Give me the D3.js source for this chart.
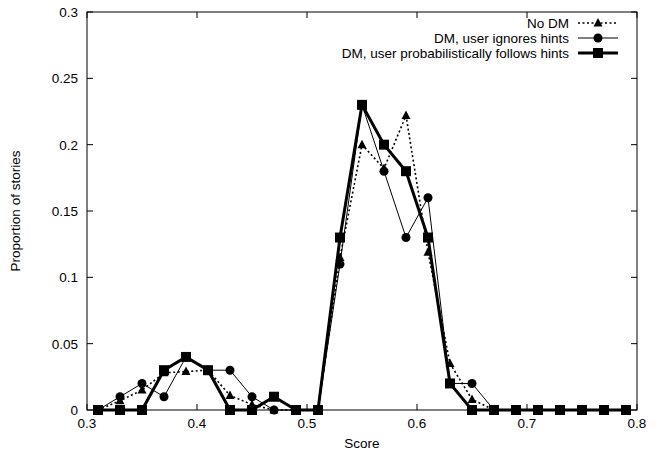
<!DOCTYPE html>
<html><head><meta charset="utf-8">
<script src="https://cdn.jsdelivr.net/npm/d3@7"></script>
<style>body{margin:0;background:#fff}text{font-family:"Liberation Sans",Arial,sans-serif;fill:#000}</style>
</head><body><svg id="c" width="657" height="455"></svg>
<script>
const scores = [0.31,0.33,0.35,0.37,0.39,0.41,0.43,0.45,0.47,0.49,0.51,0.53,0.55,0.57,0.59,0.61,0.63,0.65,0.67,0.69,0.71,0.73,0.75,0.77,0.79];
const noDM =     [0,0.007,0.015,0.028,0.029,0.03,0.011,0.004,0,0,0,0.115,0.2,0.182,0.222,0.119,0.035,0.008,0,0,0,0,0,0,0];
const ignores =  [0,0.01,0.02,0.01,0.04,0.03,0.03,0.01,0,0,0,0.11,0.23,0.18,0.13,0.16,0.02,0.02,0,0,0,0,0,0,0];
const follows =  [0,0,0,0.03,0.04,0.03,0,0,0.01,0,0,0.13,0.23,0.2,0.18,0.13,0.02,0,0,0,0,0,0,0,0];
const seriesNames = ["No DM","DM, user ignores hints","DM, user probabilistically follows hints"];
const xTicks = [0.3,0.4,0.5,0.6,0.7,0.8];
const yTicks = [0,0.05,0.1,0.15,0.2,0.25,0.3];

const svg = d3.select("#c");
const L=87,R=637,T=12,B=410;
const x = d3.scaleLinear().domain([0.3,0.8]).range([L,R]);
const y = d3.scaleLinear().domain([0,0.3]).range([B,T]);
const fs = 13.5;

const g = svg.append("g");
xTicks.forEach(t=>{
  g.append("line").attr("x1",x(t)).attr("x2",x(t)).attr("y1",B).attr("y2",B-6).attr("stroke","#000");
  g.append("line").attr("x1",x(t)).attr("x2",x(t)).attr("y1",T).attr("y2",T+6).attr("stroke","#000");
  g.append("text").attr("x",x(t)).attr("y",B+18).attr("text-anchor","middle").attr("font-size",fs).text(d3.format(".1f")(t));
});
yTicks.forEach(t=>{
  g.append("line").attr("x1",L).attr("x2",L+6).attr("y1",y(t)).attr("y2",y(t)).attr("stroke","#000");
  g.append("line").attr("x1",R).attr("x2",R-6).attr("y1",y(t)).attr("y2",y(t)).attr("stroke","#000");
  g.append("text").attr("x",L-9).attr("y",y(t)+5).attr("text-anchor","end").attr("font-size",fs).text(t===0?"0":String(t));
});
svg.append("rect").attr("x",L).attr("y",T).attr("width",R-L).attr("height",B-T).attr("fill","none").attr("stroke","#000").attr("stroke-width",1);

svg.append("text").attr("x",(L+R)/2).attr("y",448).attr("text-anchor","middle").attr("font-size",fs).text("Score");
svg.append("text").attr("transform",`translate(20,${(T+B)/2}) rotate(-90)`).attr("text-anchor","middle").attr("font-size",fs).text("Proportion of stories");

const line = d3.line().x((d,i)=>x(scores[i])).y(d=>y(d));
const styles = [
  {data:noDM, w:1.6, dash:"2,2.5", marker:"tri"},
  {data:ignores, w:1, dash:null, marker:"circ"},
  {data:follows, w:3, dash:null, marker:"sq"}
];
function drawMarker(sel,type,cx,cy){
  if(type==="tri") sel.append("path").attr("d",`M${cx},${cy-5}L${cx+4.5},${cy+3.5}L${cx-4.5},${cy+3.5}Z`).attr("fill","#000");
  else if(type==="circ") sel.append("circle").attr("cx",cx).attr("cy",cy).attr("r",4.5).attr("fill","#000");
  else sel.append("rect").attr("x",cx-5).attr("y",cy-5).attr("width",10).attr("height",10).attr("fill","#000");
}
styles.forEach(s=>{
  const p = svg.append("path").datum(s.data).attr("d",line).attr("fill","none").attr("stroke","#000").attr("stroke-width",s.w).attr("stroke-linejoin","miter");
  if(s.dash) p.attr("stroke-dasharray",s.dash);
  const mg = svg.append("g");
  s.data.forEach((v,i)=>drawMarker(mg,s.marker,x(scores[i]),y(v)));
});

const ly=[23,38,53];
styles.forEach((s,i)=>{
  svg.append("text").attr("x",569).attr("y",ly[i]+5).attr("text-anchor","end").attr("font-size",fs).text(seriesNames[i]);
  const ln = svg.append("line").attr("x1",578).attr("x2",618).attr("y1",ly[i]).attr("y2",ly[i]).attr("stroke","#000").attr("stroke-width",s.w);
  if(s.dash) ln.attr("stroke-dasharray",s.dash);
  drawMarker(svg,s.marker,598,ly[i]);
});
</script></body></html>
